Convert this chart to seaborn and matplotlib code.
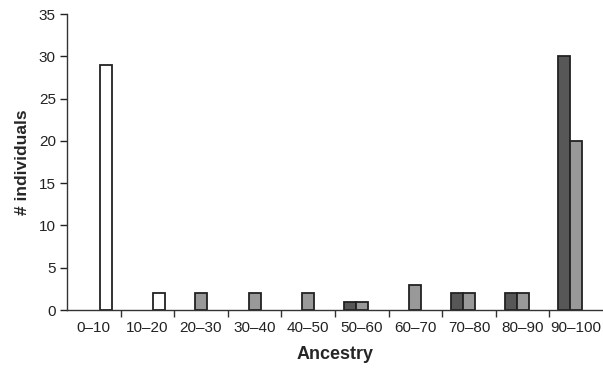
import numpy as np
import pandas as pd
import matplotlib.pyplot as plt
import seaborn as sns
from matplotlib.ticker import FixedLocator

# ancestry bins and counts per group (zeros are not drawn)
bins = ["0\u201310", "10\u201320", "20\u201330", "30\u201340", "40\u201350",
        "50\u201360", "60\u201370", "70\u201380", "80\u201390", "90\u2013100"]
dark_counts = [0, 0, 0, 0, 0, 1, 0, 2, 2, 30]
gray_counts = [0, 0, 2, 2, 2, 1, 3, 2, 2, 20]
white_counts = [29, 2, 0, 0, 0, 0, 0, 0, 0, 0]
groups = ["A", "B", "C"]
colors = ["#575757", "#999999", "#ffffff"]

rows = []
for g, vals in zip(groups, [dark_counts, gray_counts, white_counts]):
    for b, v in zip(bins, vals):
        rows.append({"Ancestry": b, "group": g, "count": v if v > 0 else np.nan})
df = pd.DataFrame(rows)

sns.set_style("white")
plt.rcParams["font.family"] = ["Liberation Sans", "DejaVu Sans"]

fig = plt.figure(figsize=(6.03, 3.70), dpi=100)
ax = fig.add_axes([0.111, 0.162, 0.889, 0.800])

sns.barplot(data=df, x="Ancestry", y="count", hue="group", order=bins,
            hue_order=groups, palette=colors, width=0.67, gap=0,
            edgecolor="#222222", linewidth=1.3, legend=False, ax=ax)

ax.set_xlim(-0.5, 9.5)
ax.set_ylim(0, 35)
ax.set_yticks(range(0, 36, 5))

# ticks between the bins, labels in the middle
ax.xaxis.set_minor_locator(FixedLocator(np.arange(0.5, 9.5, 1)))
ax.tick_params(axis="x", which="major", length=0, labelsize=11, pad=8, colors="#222222")
ax.tick_params(axis="x", which="minor", length=5, width=1, direction="out", bottom=True, color="#333333")
ax.tick_params(axis="y", length=5, width=1, direction="out", left=True, labelsize=11, pad=3, colors="#222222")

for s in ["top", "right"]:
    ax.spines[s].set_visible(False)
for s in ["left", "bottom"]:
    ax.spines[s].set_color("#333333")
    ax.spines[s].set_linewidth(1)

ax.set_xlabel("Ancestry", fontsize=13, fontweight="bold", labelpad=8)
ax.set_ylabel("# individuals", fontsize=12.5, fontweight="bold", labelpad=6)

fig.savefig("out.png", dpi=100)
